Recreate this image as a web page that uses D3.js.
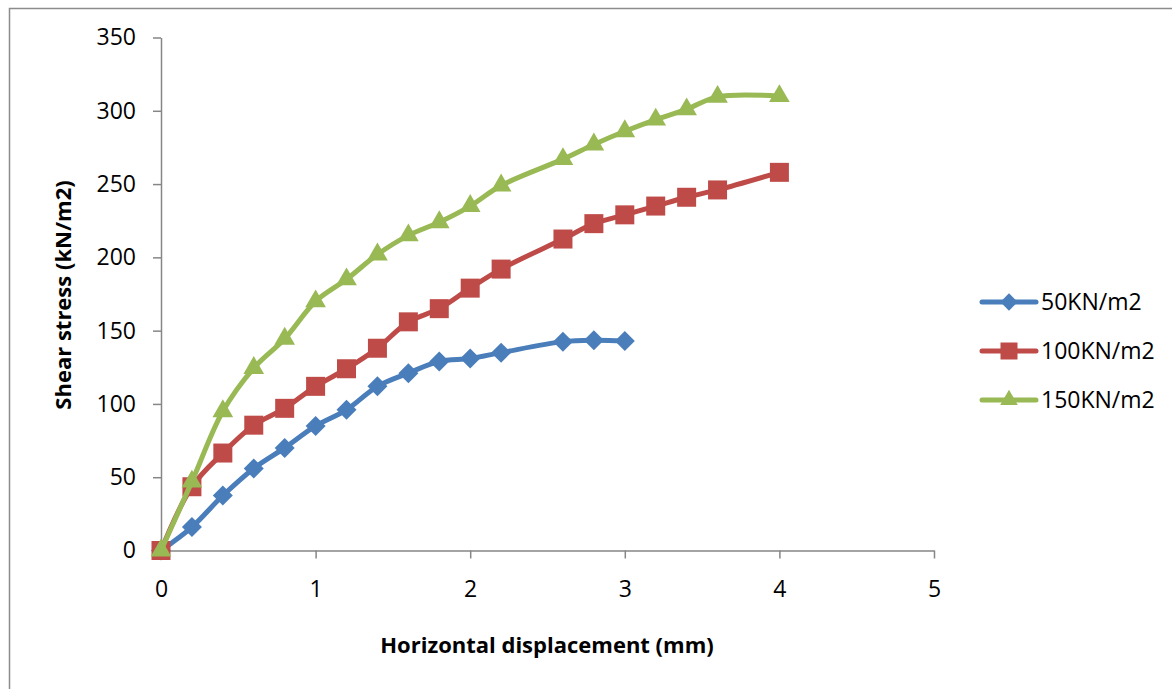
<!DOCTYPE html>
<html>
<head>
<meta charset="utf-8">
<script src="https://cdn.jsdelivr.net/npm/d3@7"></script>
<style>
  body { margin: 0; background: #fff; }
  svg { display: block; font-family: "Open Sans", sans-serif; }
</style>
</head>
<body>
<svg id="chart"></svg>
<script>
// displacement (mm) for each series
const dispShort = [0, 0.2, 0.4, 0.6, 0.8, 1.0, 1.2, 1.4, 1.6, 1.8, 2.0, 2.2, 2.6, 2.8, 3.0];
const dispLong = [0, 0.2, 0.4, 0.6, 0.8, 1.0, 1.2, 1.4, 1.6, 1.8, 2.0, 2.2, 2.6, 2.8, 3.0, 3.2, 3.4, 3.6, 4.0];

// shear stress (kN/m2)
const stress50 = [0, 16, 37.5, 56, 70, 85, 96, 112, 121, 129, 131, 135, 142.5, 143.5, 143];
const stress100 = [0, 43.5, 66.5, 85.5, 97, 112, 124, 138, 156, 165, 179, 192, 212.5, 223, 229, 235, 241, 246, 258];
const stress150 = [0, 47, 95, 124.5, 144.5, 170, 185, 202, 215, 224, 235, 249, 267, 277, 286, 294, 301, 309.5, 310];

const seriesNames = ['50KN/m2', '100KN/m2', '150KN/m2'];
const xTicks = [0, 1, 2, 3, 4, 5];
const yTicks = [0, 50, 100, 150, 200, 250, 300, 350];

const width = 1172, height = 689;
const colors = ['#4A7EBB', '#BE4B48', '#98B954'];

const series = [
  { name: seriesNames[0], x: dispShort, y: stress50, color: colors[0], shape: 'diamond' },
  { name: seriesNames[1], x: dispLong, y: stress100, color: colors[1], shape: 'square' },
  { name: seriesNames[2], x: dispLong, y: stress150, color: colors[2], shape: 'triangle' },
];

const svg = d3.select('#chart').attr('width', width).attr('height', height);

// outer chart border
svg.append('rect')
  .attr('x', 9.5).attr('y', 8.5)
  .attr('width', 1200).attr('height', 700)
  .attr('fill', 'none').attr('stroke', '#8c8c8c').attr('stroke-width', 1.5);

const x = d3.scaleLinear().domain([0, 5]).range([161, 934]);
const y = d3.scaleLinear().domain([0, 350]).range([550.5, 37.5]);

const axisColor = '#868686';

const gx = svg.append('g')
  .attr('transform', `translate(0,${y(0)})`)
  .call(d3.axisBottom(x).tickValues(xTicks).tickFormat(d3.format('d'))
    .tickSize(8).tickPadding(22).tickSizeOuter(0));

const gy = svg.append('g')
  .attr('transform', `translate(${x(0)},0)`)
  .call(d3.axisLeft(y).tickValues(yTicks).tickSize(8).tickPadding(17).tickSizeOuter(0));

[gx, gy].forEach(g => {
  g.select('.domain').attr('stroke', axisColor).attr('stroke-width', 1.5);
  g.selectAll('.tick line').attr('stroke', axisColor).attr('stroke-width', 1.5);
  g.selectAll('.tick text')
    .attr('fill', '#000')
    .style('font-family', '"Open Sans", sans-serif')
    .style('font-size', '23px');
});

// axis titles
svg.append('text')
  .attr('x', 547).attr('y', 653)
  .attr('text-anchor', 'middle')
  .style('font-size', '22px').style('font-weight', 'bold')
  .text('Horizontal displacement (mm)');

svg.append('text')
  .attr('transform', 'translate(71,295) rotate(-90)')
  .attr('text-anchor', 'middle')
  .style('font-size', '22px').style('font-weight', 'bold')
  .text('Shear stress (kN/m2)');

function symbolFor(shape, big) {
  if (shape === 'diamond') return d3.symbol(d3.symbolSquare, big ? 200 : 150)();
  if (shape === 'square') return d3.symbol(d3.symbolSquare, big ? 361 : 289)();
  return d3.symbol(d3.symbolTriangle, big ? 185 : 135)();
}

const line = d3.line()
  .x(d => x(d[0]))
  .y(d => y(d[1]))
  .curve(d3.curveCatmullRom.alpha(0.5));

series.forEach(s => {
  const pts = s.x.map((v, i) => [v, s.y[i]]);
  const g = svg.append('g');
  g.append('path')
    .attr('d', line(pts))
    .attr('fill', 'none')
    .attr('stroke', s.color)
    .attr('stroke-width', 5)
    .attr('stroke-linejoin', 'round')
    .attr('stroke-linecap', 'round');

  g.selectAll('path.marker')
    .data(pts)
    .enter()
    .append('path')
    .attr('class', 'marker')
    .attr('d', symbolFor(s.shape, true))
    .attr('transform', d => `translate(${x(d[0])},${y(d[1])})` + (s.shape === 'diamond' ? ' rotate(45)' : ''))
    .attr('fill', s.color);
});

// legend
const legend = svg.append('g');
series.forEach((s, i) => {
  const ly = 302 + i * 49;
  const row = legend.append('g').attr('transform', `translate(0,${ly})`);
  row.append('line')
    .attr('x1', 982).attr('x2', 1036)
    .attr('stroke', s.color).attr('stroke-width', 5)
    .attr('stroke-linecap', 'round');
  row.append('path')
    .attr('d', symbolFor(s.shape, false))
    .attr('transform', `translate(1009,0)` + (s.shape === 'diamond' ? ' rotate(45)' : ''))
    .attr('fill', s.color);
  row.append('text')
    .attr('x', 1041).attr('dy', '0.35em')
    .style('font-size', '23px')
    .text(s.name);
});
</script>
</body>
</html>
